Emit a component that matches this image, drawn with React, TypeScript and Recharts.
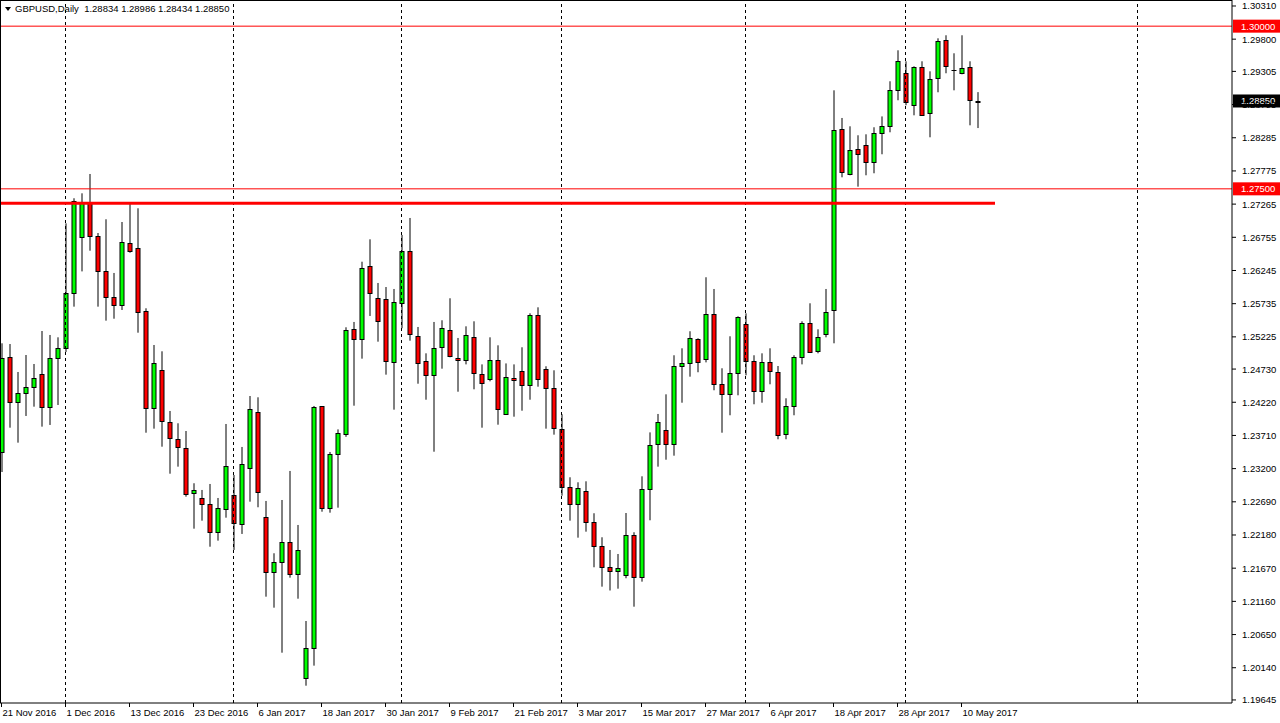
import React from "react";
import { ComposedChart, Bar, XAxis, YAxis, ReferenceLine } from "recharts";

const FONT = "'Liberation Sans', Arial, sans-serif";

// GBPUSD daily, 21 Nov 2016 .. 12 May 2017
const opens = [
  1.23451, 1.24911, 1.2422, 1.24358, 1.2445, 1.2465, 1.24143, 1.24896, 1.25049, 1.25895,
  1.2676, 1.27293, 1.26775, 1.26237, 1.25838, 1.2571, 1.26668, 1.26585, 1.25623, 1.24137,
  1.24711, 1.23912, 1.23655, 1.23513, 1.22821, 1.22744, 1.22652, 1.22231, 1.22575, 1.2279,
  1.22345, 1.23205, 1.24066, 1.22452, 1.21607, 1.21761, 1.22068, 1.21576, 1.19978, 1.20439,
  1.24158, 1.2259, 1.2342, 1.23726, 1.25341, 1.25188, 1.26314, 1.25818, 1.25802, 1.24833,
  1.25741, 1.26539, 1.25234, 1.24848, 1.24634, 1.25065, 1.25326, 1.24896, 1.24863, 1.25218,
  1.2465, 1.24573, 1.24863, 1.24035, 1.24588, 1.24696, 1.24481, 1.25556, 1.24727, 1.24435,
  1.23803, 1.22913, 1.22652, 1.22852, 1.22375, 1.22007, 1.21684, 1.21622, 1.21561, 1.22176,
  1.2153, 1.22883, 1.23571, 1.23789, 1.23571, 1.24773, 1.24817, 1.25188, 1.24879, 1.25572,
  1.24496, 1.24342, 1.24665, 1.25418, 1.24848, 1.24389, 1.24833, 1.24681, 1.23726, 1.24158,
  1.24911, 1.25434, 1.25003, 1.25265, 1.25633, 1.28415, 1.27723, 1.28108, 1.28169, 1.27908,
  1.28353, 1.28461, 1.29014, 1.29276, 1.28784, 1.29368, 1.28661, 1.29199, 1.29783, 1.29322,
  1.29276, 1.29368, 1.28834,
];
const highs = [
  1.25126, 1.25115, 1.24685, 1.24946, 1.24808, 1.25315, 1.25254, 1.25218, 1.2697, 1.27355,
  1.27431, 1.27728, 1.26821, 1.27032, 1.26207, 1.2699, 1.27267, 1.27201, 1.25664, 1.251,
  1.25003, 1.24086, 1.23897, 1.23778, 1.22975, 1.22872, 1.22964, 1.22749, 1.23886, 1.23102,
  1.23533, 1.24316, 1.24296, 1.22703, 1.21899, 1.22718, 1.23164, 1.22334, 1.20858, 1.24163,
  1.24158, 1.23456, 1.23803, 1.25372, 1.25454, 1.2638, 1.26724, 1.26053, 1.25991, 1.25961,
  1.26791, 1.27052, 1.25377, 1.24972, 1.25454, 1.2548, 1.25818, 1.25208, 1.25387, 1.25464,
  1.24802, 1.25218, 1.25095, 1.24817, 1.24802, 1.25065, 1.25587, 1.25679, 1.24773, 1.24711,
  1.24035, 1.23067, 1.2299, 1.23005, 1.22514, 1.22145, 1.2195, 1.21888, 1.22518, 1.22222,
  1.23082, 1.23757, 1.2404, 1.24342, 1.24942, 1.25049, 1.25311, 1.25203, 1.26141, 1.25961,
  1.24742, 1.25234, 1.25541, 1.25587, 1.24942, 1.24972, 1.25049, 1.24777, 1.24281, 1.24942,
  1.25464, 1.25741, 1.25341, 1.25961, 1.29014, 1.28589, 1.28461, 1.28323, 1.28338, 1.28446,
  1.28613, 1.29153, 1.29629, 1.2946, 1.29383, 1.2946, 1.29306, 1.29813, 1.2986, 1.29583,
  1.2986, 1.2946, 1.28986,
];
const lows = [
  1.23148, 1.23829, 1.23599, 1.24009, 1.24152, 1.23845, 1.23871, 1.24178, 1.24993, 1.25689,
  1.26231, 1.26549, 1.25689, 1.25474, 1.25504, 1.25638, 1.26518, 1.25289, 1.23752, 1.23814,
  1.23537, 1.23122, 1.2323, 1.22769, 1.22277, 1.224, 1.22, 1.22093, 1.22446, 1.2195,
  1.22196, 1.22692, 1.22606, 1.21232, 1.21063, 1.20371, 1.21524, 1.21201, 1.19864, 1.20172,
  1.22538, 1.22523, 1.226, 1.23689, 1.24167, 1.2489, 1.25546, 1.25151, 1.24644, 1.24106,
  1.25357, 1.25166, 1.24505, 1.24259, 1.2346, 1.24736, 1.24911, 1.24382, 1.24802, 1.24419,
  1.23829, 1.24542, 1.23875, 1.24035, 1.23998, 1.2409, 1.24259, 1.24459, 1.23814, 1.23722,
  1.22784, 1.224, 1.22139, 1.22231, 1.21684, 1.21386, 1.21327, 1.21355, 1.21515, 1.21078,
  1.21463, 1.22406, 1.2323, 1.23337, 1.23399, 1.24213, 1.24613, 1.24681, 1.24833, 1.24404,
  1.23752, 1.2402, 1.24327, 1.24634, 1.24189, 1.24213, 1.24496, 1.23651, 1.23651, 1.2402,
  1.24802, 1.24988, 1.24972, 1.25218, 1.25126, 1.27677, 1.27708, 1.27533, 1.27708, 1.27739,
  1.28031, 1.28369, 1.28861, 1.28784, 1.2863, 1.2863, 1.28292, 1.28984, 1.29276, 1.29014,
  1.2926, 1.28476, 1.28434,
];
const closes = [
  1.24896, 1.2422, 1.24358, 1.2445, 1.24588, 1.24143, 1.24896, 1.25049, 1.25895, 1.27308,
  1.27293, 1.26775, 1.26237, 1.25833, 1.2571, 1.26678, 1.26544, 1.25612, 1.24137, 1.24817,
  1.23928, 1.23666, 1.23528, 1.22815, 1.22867, 1.22652, 1.22231, 1.2259, 1.23236, 1.2236,
  1.23267, 1.24112, 1.22836, 1.21607, 1.21761, 1.22068, 1.21576, 1.21945, 1.20439, 1.24143,
  1.2259, 1.2342, 1.23742, 1.25326, 1.25188, 1.26283, 1.25895, 1.25464, 1.24848, 1.25756,
  1.26539, 1.25265, 1.24817, 1.24634, 1.25049, 1.25357, 1.24926, 1.24863, 1.25249, 1.24665,
  1.24512, 1.24863, 1.24112, 1.24604, 1.24558, 1.24481, 1.25556, 1.24573, 1.24435, 1.2382,
  1.22913, 1.22652, 1.22898, 1.22375, 1.22007, 1.21684, 1.21622, 1.21668, 1.22176, 1.2153,
  1.22883, 1.23556, 1.23912, 1.23571, 1.24773, 1.24817, 1.25203, 1.24833, 1.25572, 1.24496,
  1.24342, 1.24665, 1.25526, 1.24848, 1.24389, 1.24833, 1.24696, 1.23712, 1.24158, 1.24911,
  1.25434, 1.24988, 1.25218, 1.25603, 1.284, 1.27754, 1.28092, 1.28031, 1.27908, 1.28353,
  1.28461, 1.29014, 1.2946, 1.2883, 1.29368, 1.2863, 1.29183, 1.29767, 1.29383, 1.29322,
  1.29352, 1.28861, 1.2885,
];

// chart shows empty space for future bars on the right
const slotCount = 154;

const dateTicks = [0, 8, 16, 24, 32, 40, 48, 56, 64, 72, 80, 88, 96, 104, 112, 120];
const dateLabels = [
  "21 Nov 2016", "1 Dec 2016", "13 Dec 2016", "23 Dec 2016", "6 Jan 2017", "18 Jan 2017",
  "30 Jan 2017", "9 Feb 2017", "21 Feb 2017", "3 Mar 2017", "15 Mar 2017", "27 Mar 2017",
  "6 Apr 2017", "18 Apr 2017", "28 Apr 2017", "10 May 2017",
];
const priceTicks = [
  1.3031, 1.298, 1.29305, 1.28795, 1.28285, 1.27775, 1.27265, 1.26755, 1.26245, 1.25735,
  1.25225, 1.2473, 1.2422, 1.2371, 1.232, 1.2269, 1.2218, 1.2167, 1.2116, 1.2065, 1.2014,
  1.19645,
];
const periodSeparators = [8, 29, 50, 70, 93, 113, 142];

const levelHigh = 1.3;
const levelLow = 1.275;
const bidPrice = 1.2885;
const resistance = 1.27279;
const resistanceEnd = 124;

const data = Array.from({ length: slotCount }, (_, i) =>
  i < opens.length
    ? { i, o: opens[i], h: highs[i], l: lows[i], c: closes[i], range: [lows[i], highs[i]] }
    : { i, range: null }
);

const Candle = (props: any) => {
  const { x, y, width, height, payload } = props;
  if (!payload || payload.o == null) return null;
  const { o, h, l, c } = payload;
  const top = Math.min(y, y + height);
  const bottom = Math.max(y, y + height);
  const span = h - l || 1e-9;
  const py = (p: number) => top + ((h - p) / span) * (bottom - top);
  const cx = x + width / 2;
  const bTop = Math.round(py(Math.max(o, c))) + 0.5;
  const bBot = Math.round(py(Math.min(o, c))) + 0.5;
  const fill = c > o ? "#00ff00" : "#ff0000";
  return (
    <g>
      <line x1={cx} x2={cx} y1={py(h)} y2={py(l)} stroke="#000" strokeWidth={1} />
      {bBot - bTop < 1 ? (
        <line x1={cx - 2.5} x2={cx + 2.5} y1={bTop} y2={bTop} stroke="#000" strokeWidth={1} />
      ) : (
        <rect x={cx - 2} y={bTop} width={4} height={bBot - bTop} fill={fill} stroke="#000" strokeWidth={1} />
      )}
    </g>
  );
};

const DateTick = (props: any) => {
  const { x, y, payload } = props;
  const k = dateTicks.indexOf(payload.value);
  return (
    <text x={x + 1} y={y + 7} fontSize={9.5} fontFamily={FONT} fill="#000" textAnchor="start">
      {k >= 0 ? dateLabels[k] : ""}
    </text>
  );
};

const PriceTick = (props: any) => {
  const { x, y, payload } = props;
  return (
    <text x={x} y={y + 3.5} fontSize={9.5} fontFamily={FONT} fill="#000" textAnchor="start">
      {Number(payload.value).toFixed(5)}
    </text>
  );
};

const priceTag = (bg: string, text: string) => (props: any) => {
  const vb = props.viewBox || {};
  const right = (vb.x || 0) + (vb.width || 0);
  const y = vb.y || 0;
  return (
    <g>
      <rect x={right + 1} y={y - 6.5} width={47} height={13} fill={bg} />
      <text x={right + 9} y={y + 3.5} fontSize={9.5} fontFamily={FONT} fill="#fff" textAnchor="start">
        {text}
      </text>
    </g>
  );
};

export default function App() {
  return (
    <div style={{ position: "absolute", left: 0, top: 0, width: 1280, height: 723, background: "#fff" }}>
      <ComposedChart width={1280} height={723} data={data} margin={{ top: 0, right: 0, bottom: 0, left: 0 }}>
        <XAxis
          dataKey="i"
          type="category"
          ticks={dateTicks}
          interval={0}
          padding={{ left: -2.5, right: 2.5 }}
          height={20}
          tickSize={4}
          axisLine={{ stroke: "#000" }}
          tickLine={{ stroke: "#000" }}
          tick={<DateTick />}
        />
        <YAxis
          orientation="right"
          width={48}
          domain={[1.19598, 1.30402]}
          allowDataOverflow
          ticks={priceTicks}
          interval={0}
          tickSize={4}
          tickMargin={6}
          axisLine={{ stroke: "#000" }}
          tickLine={{ stroke: "#000" }}
          tick={<PriceTick />}
        />
        {periodSeparators.map((s) => (
          <ReferenceLine key={s} x={s} stroke="#000" strokeWidth={1} strokeDasharray="3 3" />
        ))}
        <ReferenceLine y={levelHigh} stroke="#ff0000" strokeWidth={1} label={priceTag("#ff0000", "1.30000")} />
        <ReferenceLine y={levelLow} stroke="#ff0000" strokeWidth={1} label={priceTag("#ff0000", "1.27500")} />
        <ReferenceLine
          segment={[
            { x: 0, y: resistance },
            { x: resistanceEnd, y: resistance },
          ]}
          stroke="#ff0000"
          strokeWidth={3}
          strokeLinecap="square"
        />
        <Bar dataKey="range" barSize={5} shape={<Candle />} isAnimationActive={false} />
        <ReferenceLine y={bidPrice} stroke="none" strokeOpacity={0} label={priceTag("#000", "1.28850")} />
      </ComposedChart>
      <div
        style={{
          position: "absolute",
          left: 0,
          top: 0,
          width: 1232,
          height: 703,
          borderLeft: "1px solid #000",
          borderTop: "1px solid #000",
          boxSizing: "border-box",
          pointerEvents: "none",
        }}
      />
      <div
        style={{
          position: "absolute",
          left: 4,
          top: 2,
          fontFamily: FONT,
          fontSize: 9.5,
          lineHeight: "14px",
          color: "#000",
          whiteSpace: "pre",
          display: "flex",
          alignItems: "center",
        }}
      >
        <svg width={8} height={14} style={{ marginRight: 3 }}>
          <polygon points="1,5 7,5 4,9" fill="#000" />
        </svg>
        <span>{"GBPUSD,Daily  1.28834 1.28986 1.28434 1.28850"}</span>
      </div>
    </div>
  );
}
